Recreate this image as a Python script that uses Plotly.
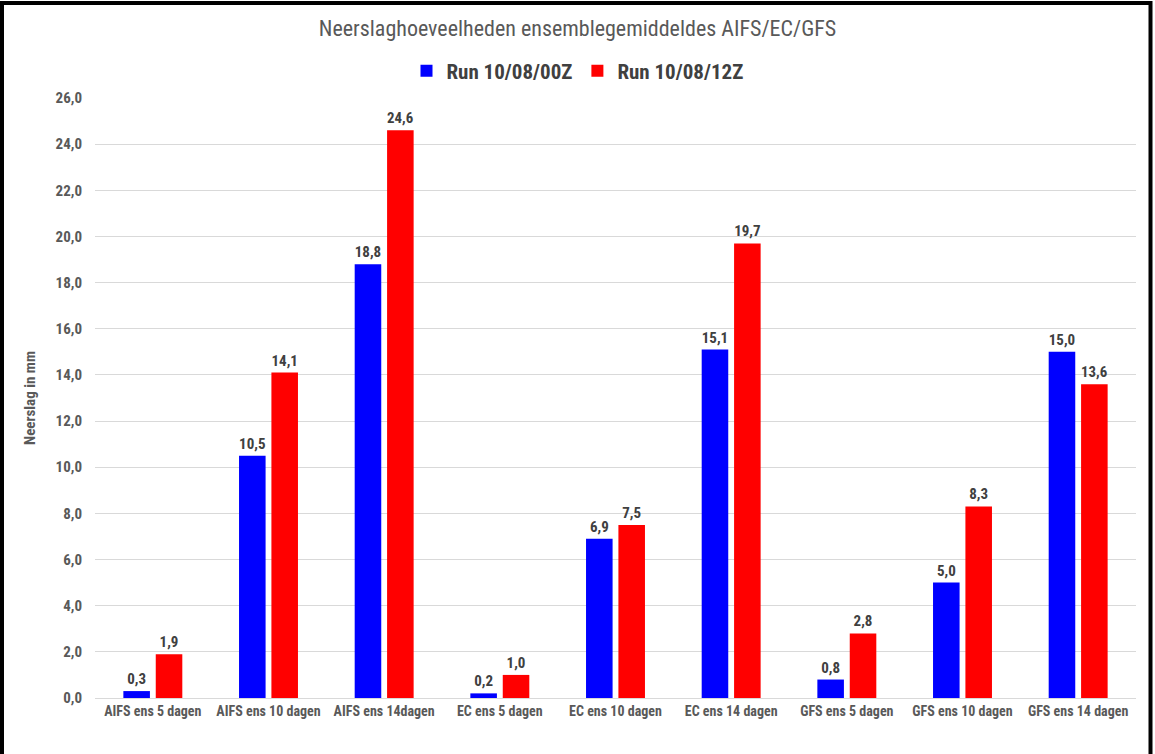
import plotly.graph_objects as go

categories = ["AIFS ens 5 dagen", "AIFS ens 10 dagen", "AIFS ens 14dagen",
              "EC ens 5 dagen", "EC ens 10 dagen", "EC ens 14 dagen",
              "GFS ens 5 dagen", "GFS ens 10 dagen", "GFS ens 14 dagen"]
run_00z = [0.3, 10.5, 18.8, 0.2, 6.9, 15.1, 0.8, 5.0, 15.0]
run_12z = [1.9, 14.1, 24.6, 1.0, 7.5, 19.7, 2.8, 8.3, 13.6]
series_names = ["Run 10/08/00Z", "Run 10/08/12Z"]
y_ticks = [0, 2, 4, 6, 8, 10, 12, 14, 16, 18, 20, 22, 24, 26]

FONT = "Liberation Sans Narrow, Roboto Condensed, Arial Narrow, Roboto, sans-serif"

fig = go.Figure()
for name, vals, col in [(series_names[0], run_00z, "#0000FF"),
                        (series_names[1], run_12z, "#FF0000")]:
    fig.add_trace(go.Bar(
        x=categories, y=vals, name=name, marker=dict(color=col, line=dict(width=0)),
        texttemplate="%{y:.1f}", textposition="outside", cliponaxis=False,
        textfont=dict(family=FONT, size=15, color="#404040", weight="bold"),
    ))

L, R, T, B = 95, 19, 98, 56
W, H = 1155, 754
pw, ph = W - L - R, H - T - B

fig.update_layout(
    width=W, height=H,
    margin=dict(l=L, r=R, t=T, b=B),
    paper_bgcolor="white", plot_bgcolor="white",
    separators=",.",
    barmode="group", bargap=0.44, bargroupgap=0.18,
    title=dict(text="Neerslaghoeveelheden ensemblegemiddeldes AIFS/EC/GFS",
               x=0.5, xanchor="center", y=1 - 28 / H, yanchor="middle",
               font=dict(family=FONT, size=22, color="#595959")),
    legend=dict(orientation="h", x=(W / 2 - L) / pw, xanchor="center", y=1 + (T - 71) / ph,
                yanchor="middle",
                font=dict(family=FONT, size=21, color="#404040", weight="bold"),
                itemwidth=30, traceorder="normal"),
    xaxis=dict(tickfont=dict(family=FONT, size=14, color="#595959", weight="bold"),
               showline=True, linecolor="#d9d9d9", linewidth=1, ticks="", showgrid=False),
    yaxis=dict(range=[0, 26], tickvals=y_ticks, tickformat=".1f",
               tickfont=dict(family=FONT, size=15, color="#595959", weight="bold"),
               showgrid=True, gridcolor="#d9d9d9", gridwidth=1, zeroline=False,
               ticks="", ticklabelstandoff=12,
               title=dict(text="Neerslag in mm", standoff=16,
                          font=dict(family=FONT, size=15, color="#595959", weight="bold"))),
    shapes=[dict(type="rect", xref="paper", yref="paper",
                 x0=(2 - L) / pw, x1=(1150.5 - L) / pw,
                 y0=(ph + T - 770) / ph, y1=(ph + T - 3) / ph,
                 line=dict(color="black", width=4), fillcolor="rgba(0,0,0,0)", layer="above")],
)

fig.write_html("out.html", config={"displayModeBar": False},
               post_script="document.body.style.margin='0';document.body.style.overflow='hidden';")
